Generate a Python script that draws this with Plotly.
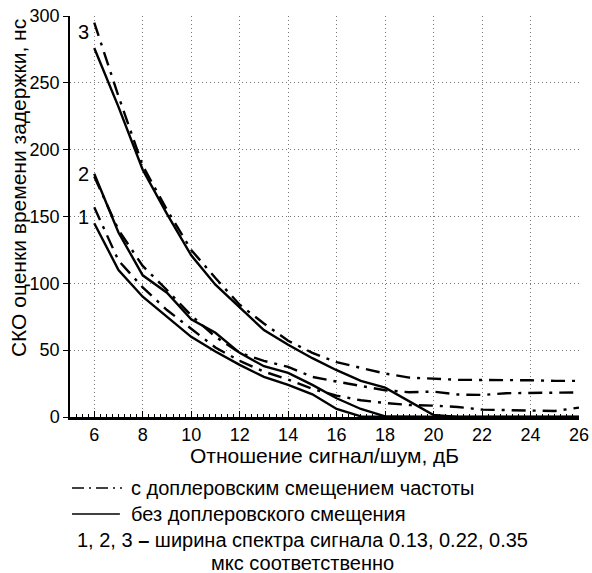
import plotly.graph_objects as go

# отношение сигнал/шум, дБ
snr = [6, 7, 8, 9, 10, 11, 12, 13, 14, 15, 16, 17, 18, 19, 20, 21, 22, 23, 24, 25, 26]

# без доплеровского смещения (сплошные)
solid_1 = [145, 110, 90, 75, 60, 49, 39, 30, 24, 17, 6, 0.5, 0, 0, 0, 0, 0, 0, 0, 0, 0]
solid_2 = [182, 138, 106, 93, 73, 63, 48, 38, 33, 24, 14, 6, 0.5, 0, 0, 0, 0, 0, 0, 0, 0]
solid_3 = [276, 232, 185, 152, 121, 99, 82, 65, 54, 44, 35, 27, 22, 12, 1.5, 0, 0, 0, 0, 0, 0]

# с доплеровским смещением частоты (штрих-пунктир)
dash_1 = [157, 117, 97, 80, 66, 52, 42, 34, 28, 21, 16, 12.5, 10.5, 9, 8.5, 7.5, 5.5, 5, 4.5, 4.5, 7]
dash_2 = [180, 140, 113, 95, 76, 60, 48, 42, 37.5, 30, 26.5, 23.5, 20, 18.5, 19, 16.8, 16.5, 17.8, 18, 18.2, 18.4]
dash_3 = [295, 240, 188, 155, 125, 104, 84, 70, 57, 48, 41, 37, 32.5, 29.5, 28.5, 27.8, 27.7, 27.7, 27.5, 27, 27]

x_ticks = [6, 8, 10, 12, 14, 16, 18, 20, 22, 24, 26]
y_ticks = [0, 50, 100, 150, 200, 250, 300]

FONT = "Liberation Sans, Arial, sans-serif"
DASHDOT = "14px,7px,3px,7px"
GRID_DASH = "1px,3px"


def note(text, x, y, size=20, xanchor="center", **kw):
    # текст в долях области построения (отрицательные y - под осью)
    fig.add_annotation(xref="paper", yref="paper", x=x, y=y, text=text, showarrow=False,
                       xanchor=xanchor, yanchor="middle",
                       font=dict(size=size, color="black", family=FONT), **kw)


fig = go.Figure()

for ys in [solid_1, solid_2, solid_3]:
    fig.add_trace(go.Scatter(x=snr, y=ys, mode="lines",
                             line=dict(color="black", width=2.4), showlegend=False))
for ys in [dash_1, dash_2, dash_3]:
    fig.add_trace(go.Scatter(x=snr, y=ys, mode="lines",
                             line=dict(color="black", width=2.4, dash=DASHDOT), showlegend=False))

# номера кривых
for txt, yv in [("3", 288), ("2", 182), ("1", 150)]:
    fig.add_annotation(x=5.56, y=yv, text=txt, showarrow=False, xanchor="center", yanchor="middle",
                       font=dict(size=20, color="black", family=FONT))

# подписи осей
note("СКО оценки времени задержки, нс", -0.102, 0.571, size=21, textangle=-90)
note("Отношение сигнал/шум, дБ", 0.5, -0.097, size=21)

# пояснения под графиком
fig.add_shape(type="line", xref="paper", yref="paper", x0=0.004, x1=0.102, y0=-0.177, y1=-0.177,
              line=dict(color="black", width=1.5, dash="12px,5px,2px,5px"))
note("с доплеровским смещением частоты", 0.116, -0.177, xanchor="left")
fig.add_shape(type="line", xref="paper", yref="paper", x0=0.004, x1=0.098, y0=-0.242, y1=-0.242,
              line=dict(color="black", width=1.5))
note("без доплеровского смещения", 0.116, -0.242, xanchor="left")
note("1, 2, 3 <b>–</b> ширина спектра сигнала 0.13, 0.22, 0.35", 0.457, -0.306)
note("мкс соответственно", 0.457, -0.364)

fig.update_xaxes(range=[5, 26], tickvals=x_ticks, ticks="inside", ticklen=6, tickcolor="black",
                 minor=dict(ticks="inside", ticklen=3, dtick=0.25, tickcolor="black", showgrid=False),
                 showline=True, linecolor="black", linewidth=2.5, automargin=False,
                 showgrid=True, gridcolor="#777", griddash=GRID_DASH, gridwidth=1,
                 zeroline=False, tickfont=dict(size=18, color="black", family=FONT))
fig.update_yaxes(range=[0, 300], tickvals=y_ticks, ticks="outside", ticklen=5, tickcolor="black",
                 showline=True, linecolor="black", linewidth=1.5, automargin=False,
                 showgrid=True, gridcolor="#777", griddash=GRID_DASH, gridwidth=1,
                 zeroline=False, tickfont=dict(size=18, color="black", family=FONT))

fig.update_layout(width=592, height=573, margin=dict(l=70, r=13, t=16, b=156),
                  plot_bgcolor="white", paper_bgcolor="white",
                  font=dict(family=FONT, color="black"), showlegend=False)

# убрать стандартный отступ body, чтобы рисунок занял окно целиком
fig.write_html("out.html", config={"displayModeBar": False},
               post_script="document.body.style.margin='0';")
